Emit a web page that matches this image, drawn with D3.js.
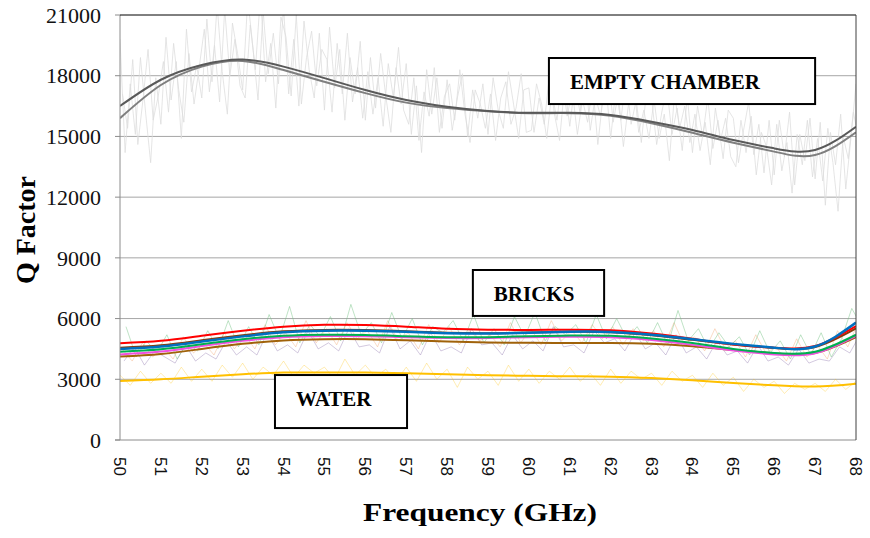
<!DOCTYPE html>
<html>
<head>
<meta charset="utf-8">
<script src="https://cdn.jsdelivr.net/npm/d3@7"></script>
<style>
body { margin: 0; background: #fff; }
</style>
</head>
<body>
<div class="canvas"></div>
<script>
var width = 870,
    height = 538;

// tick labels
var freqTicks = [50, 51, 52, 53, 54, 55, 56, 57, 58, 59, 60, 61, 62, 63, 64, 65, 66, 67, 68];
var qTicks = [0, 3000, 6000, 9000, 12000, 15000, 18000, 21000];

// smooth trend lines, one value per GHz (50..68)
var emptyTrendA = [16500, 17800, 18530, 18800, 18450, 17880, 17290, 16800, 16470, 16260, 16170, 16170, 16060, 15730, 15320, 14820, 14410, 14330, 15480];
var emptyTrendB = [15900, 17540, 18450, 18730, 18280, 17700, 17140, 16670, 16400, 16240, 16150, 16150, 16020, 15650, 15180, 14690, 14250, 14080, 15200];
var redTrend    = [4780, 4900, 5150, 5400, 5600, 5690, 5680, 5600, 5500, 5450, 5440, 5450, 5420, 5260, 5000, 4720, 4560, 4650, 5630];
var blueTrend   = [4500, 4620, 4870, 5120, 5320, 5400, 5400, 5350, 5280, 5260, 5300, 5350, 5340, 5200, 4980, 4750, 4560, 4620, 5800];
var maroonTrend = [4560, 4680, 4930, 5180, 5370, 5440, 5430, 5370, 5300, 5280, 5310, 5350, 5330, 5180, 4950, 4720, 4540, 4600, 5520];
var greenTrend  = [4360, 4480, 4730, 4980, 5150, 5200, 5190, 5130, 5080, 5080, 5130, 5160, 5150, 5020, 4790, 4500, 4300, 4360, 5200];
var pinkTrend   = [4230, 4370, 4640, 4900, 5080, 5140, 5130, 5080, 5040, 5040, 5080, 5100, 5080, 4940, 4700, 4420, 4230, 4290, 5150];
var brownTrend  = [4120, 4250, 4500, 4750, 4920, 4980, 4980, 4930, 4870, 4820, 4800, 4790, 4790, 4750, 4630, 4450, 4280, 4300, 5080];
var waterTrend  = [2915, 3000, 3130, 3250, 3330, 3340, 3330, 3300, 3250, 3200, 3170, 3150, 3130, 3060, 2950, 2820, 2700, 2640, 2780];

// raw measured traces, empty chamber, every 0.125 GHz
var emptyRawA = [
    19800, 14200, 17600, 15100, 18900, 16200, 13700, 17900,
    15600, 19900, 16800, 18700, 14900, 20300, 17200, 18500,
    16900, 20800, 17700, 21500, 18200, 16100, 20600, 19100,
    17300, 21800, 19400, 16800, 21200, 18100, 20100, 17600,
    21400, 17100, 19800, 16500, 20700, 18300, 16900, 20100,
    16300, 20400, 17400, 19300, 15800, 18900, 17100, 19700,
    15800, 18900, 16400, 19100, 17000, 15200, 18400, 16600,
    18600, 15100, 17500, 14200, 18300, 16100, 17900, 15400,
    17800, 15300, 16900, 18100, 15000, 17300, 15900, 17600,
    15100, 17900, 16300, 15400, 18200, 16600, 14900, 17300,
    17400, 15200, 16900, 15600, 18000, 16100, 14800, 17500,
    15500, 17600, 16200, 18300, 15300, 17000, 16000, 17800,
    14900, 17300, 15800, 17900, 15600, 16800, 14700, 17200,
    16900, 14600, 16200, 17400, 15100, 16400, 14300, 17000,
    14200, 16500, 15000, 16900, 14400, 15800, 13900, 16300,
    15900, 13700, 15300, 16700, 14100, 15600, 13200, 15800,
    13100, 15800, 14000, 16200, 12600, 15100, 13800, 15900,
    12900, 15700, 11600, 15200, 13600, 16100, 12400, 14900,
    17600
];
var emptyRawB = [
    17100, 15400, 18800, 14600, 16800, 19300, 15800, 17000,
    18700, 16200, 19600, 17300, 15700, 19100, 16600, 18400,
    20300, 17200, 19500, 16700, 21300, 18000, 19800, 17500,
    16900, 20500, 18300, 22000, 17700, 19600, 16400, 20900,
    19900, 17000, 21000, 16600, 18900, 20200, 17500, 19300,
    18800, 16200, 19600, 17100, 20100, 16700, 18400, 15900,
    18200, 16100, 17900, 15500, 18600, 16900, 19400, 16300,
    15600, 17900, 14800, 17200, 16000, 18400, 15200, 17000,
    17600, 15800, 18300, 16100, 14700, 17300, 16600, 15400,
    17100, 14800, 16900, 17700, 15600, 16400, 18100, 15200,
    15300, 17600, 16600, 14900, 17200, 15800, 17900, 16000,
    17300, 15100, 16800, 15700, 17500, 14600, 16900, 18200,
    15700, 17100, 14500, 16600, 17700, 15200, 16300, 14900,
    16800, 14900, 16100, 13800, 17100, 15400, 16500, 14700,
    16100, 14300, 15700, 13600, 16400, 14800, 15900, 14000,
    13500, 15800, 14200, 16000, 13100, 15200, 14500, 12600,
    15600, 13300, 14700, 12200, 15100, 13600, 15800, 13000,
    14900, 12800, 15400, 13700, 11300, 15000, 13900, 16200,
    14900
];

// raw traces, bricks and water, every 0.25 GHz
var greenRaw = [
    5600, 4100, 4900, 4300, 5200, 4000, 4800, 4400, 5400, 4500, 5900, 4600,
    5600, 4700, 6200, 5000, 6600, 4800, 5700, 5100, 6100, 4900, 6700, 5200,
    5800, 4800, 6300, 5000, 6000, 4700, 5600, 5300, 5900, 4900, 6200, 4800,
    5500, 4700, 6100, 5100, 6300, 4900, 5600, 5200, 5700, 4800, 6200, 5000,
    6000, 5000, 5600, 4800, 5800, 4700, 6400, 4900, 5500, 4500, 5300, 4600,
    5100, 4200, 5400, 4300, 4900, 4000, 5200, 4200, 5300, 4100, 5000, 6500,
    5600
];
var purpleRaw = [
    3900, 4600, 3700, 4400, 4100, 3800, 4700, 3900, 4300, 4000, 4900, 4200,
    4600, 4200, 5300, 4400, 4700, 4300, 5400, 4500, 4800, 4400, 5500, 4600,
    4700, 4300, 5600, 4500, 4900, 4200, 5300, 4400, 4600, 4300, 5500, 4700,
    4800, 4200, 5200, 4500, 4900, 4400, 5600, 4600, 4700, 4300, 5400, 4800,
    5000, 4400, 5300, 4500, 4800, 4200, 5200, 4300, 4600, 4000, 4900, 4200,
    4400, 3800, 4700, 3900, 4100, 3700, 4500, 3800, 4000, 3900, 4600, 4300,
    5200
];
var peachRaw = [
    4500, 3900, 4800, 4100, 4600, 4000, 5100, 4300, 4800, 4200, 5300, 4500,
    5200, 4500, 5700, 4700, 5300, 4600, 5900, 4800, 5500, 4700, 5800, 5000,
    5400, 4600, 5900, 4900, 5300, 4500, 5700, 4800, 5600, 4700, 5400, 4900,
    5200, 4600, 5800, 4800, 5500, 4700, 5900, 4900, 5400, 4800, 5700, 5000,
    5600, 4700, 5500, 4900, 5400, 4600, 5800, 4700, 5100, 4400, 5500, 4500,
    4900, 4100, 5200, 4300, 4600, 3900, 5000, 4100, 4700, 4000, 5400, 4600,
    5800
];
var waterRaw = [
    3200, 2700, 3400, 2800, 3300, 2800, 3600, 2900, 3500, 2900, 3700, 3100,
    3800, 3000, 3600, 3200, 3900, 3100, 3700, 3300, 3600, 3000, 4000, 3200,
    3700, 3100, 3500, 2900, 3600, 2900, 3800, 3000, 3500, 2600, 3600, 3000,
    3400, 2700, 3700, 2900, 3500, 2800, 3400, 3000, 3600, 2900, 3300, 2700,
    3500, 2800, 3400, 3000, 3300, 2700, 3400, 2900, 3200, 2600, 3300, 2700,
    3100, 2400, 3000, 2600, 2900, 2300, 2800, 2500, 2800, 2400, 3000, 2500,
    2900
];

var margin = {left: 120, right: 14, top: 15, bottom: 98};
var serif = "Liberation Serif, Times New Roman, Times, serif";

var svg = d3.select(".canvas").append("svg")
    .attr("width", width)
    .attr("height", height)
    .attr("font-family", serif);

var x = d3.scaleLinear().domain([50, 68]).range([margin.left, width - margin.right]);
var y = d3.scaleLinear().domain([0, 21000]).range([height - margin.bottom, margin.top]);

svg.append("clipPath").attr("id", "plot")
    .append("rect")
    .attr("x", x(50)).attr("y", y(21000))
    .attr("width", x(68) - x(50)).attr("height", y(0) - y(21000));

// gridlines
svg.append("g").selectAll("line")
    .data(qTicks.filter(function(d) { return d > 0 && d < 21000; }))
    .enter().append("line")
    .attr("x1", x(50)).attr("x2", x(68))
    .attr("y1", function(d) { return y(d); })
    .attr("y2", function(d) { return y(d); })
    .attr("stroke", "#a6a6a6")
    .attr("stroke-width", 1);

var plot = svg.append("g").attr("clip-path", "url(#plot)");

// raw data traces
function rawLine(step) {
    return d3.line()
        .x(function(d, i) { return x(50 + i * step); })
        .y(function(d) { return y(d); });
}

function drawRaw(data, step, color, opacity, offset) {
    plot.append("path")
        .datum(data)
        .attr("transform", "translate(" + (offset || 0) + ",0)")
        .attr("d", rawLine(step))
        .attr("fill", "none")
        .attr("stroke", color)
        .attr("stroke-width", 1)
        .attr("stroke-opacity", opacity);
}

drawRaw(emptyRawA, 0.125, "#dcdcdc", 0.75, 0);
drawRaw(emptyRawB, 0.125, "#dcdcdc", 0.75, 2.5);
drawRaw(waterRaw, 0.25, "#ffc000", 0.3, 0);
drawRaw(peachRaw, 0.25, "#f4b183", 0.45, 2);
drawRaw(purpleRaw, 0.25, "#8064a2", 0.35, 4);
drawRaw(greenRaw, 0.25, "#70c080", 0.45, 6);

// trend lines
var trend = d3.line()
    .x(function(d, i) { return x(freqTicks[i]); })
    .y(function(d) { return y(d); })
    .curve(d3.curveNatural);

var trends = [
    {data: emptyTrendB, color: "#7f7f7f", w: 2},
    {data: emptyTrendA, color: "#595959", w: 2},
    {data: waterTrend, color: "#ffc000", w: 2},
    {data: brownTrend, color: "#a0620a", w: 2},
    {data: pinkTrend, color: "#f050e0", w: 2},
    {data: greenTrend, color: "#00b050", w: 2},
    {data: maroonTrend, color: "#843c0c", w: 2},
    {data: redTrend, color: "#ff0000", w: 2},
    {data: blueTrend, color: "#0070c0", w: 2.5}
];

trends.forEach(function(t) {
    plot.append("path")
        .datum(t.data)
        .attr("d", trend)
        .attr("fill", "none")
        .attr("stroke", t.color)
        .attr("stroke-width", t.w);
});

// axes and frame
svg.append("line")
    .attr("x1", x(50)).attr("x2", x(50))
    .attr("y1", y(21000)).attr("y2", y(0))
    .attr("stroke", "#8c8c8c");
svg.append("line")
    .attr("x1", x(50) - 5).attr("x2", x(68))
    .attr("y1", y(0)).attr("y2", y(0))
    .attr("stroke", "#8c8c8c");
svg.append("line")
    .attr("x1", x(50)).attr("x2", x(68))
    .attr("y1", y(21000)).attr("y2", y(21000))
    .attr("stroke", "#000");
svg.append("line")
    .attr("x1", x(68)).attr("x2", x(68))
    .attr("y1", y(21000)).attr("y2", y(0))
    .attr("stroke", "#404040");

// y ticks
var yt = svg.append("g").selectAll("g")
    .data(qTicks).enter().append("g");
yt.append("line")
    .attr("x1", x(50) - 5).attr("x2", x(50))
    .attr("y1", function(d) { return y(d); })
    .attr("y2", function(d) { return y(d); })
    .attr("stroke", "#8c8c8c");
yt.append("text")
    .attr("x", 101)
    .attr("y", function(d) { return y(d); })
    .attr("dy", "0.35em")
    .attr("text-anchor", "end")
    .attr("font-family", serif)
    .style("font-size", "22px")
    .style("fill", "#111")
    .text(function(d) { return d; });

// x ticks
svg.append("g").selectAll("text")
    .data(freqTicks).enter().append("text")
    .attr("transform", function(d) { return "translate(" + x(d) + ",457) rotate(90)"; })
    .attr("dy", "0.35em")
    .attr("font-family", "Liberation Sans, Arial, sans-serif")
    .style("font-size", "17px")
    .style("fill", "#111")
    .text(function(d) { return d; });

// axis titles
svg.append("text")
    .attr("x", 480)
    .attr("y", 521)
    .attr("text-anchor", "middle")
    .attr("textLength", 234)
    .attr("lengthAdjust", "spacingAndGlyphs")
    .attr("font-family", serif)
    .style("font-size", "25px")
    .style("font-weight", "bold")
    .text("Frequency (GHz)");

svg.append("text")
    .attr("transform", "translate(35,230) rotate(-90)")
    .attr("text-anchor", "middle")
    .attr("font-family", serif)
    .style("font-size", "28px")
    .style("font-weight", "bold")
    .text("Q Factor");

// label boxes (corners in data units)
var labels = [
    {text: "EMPTY CHAMBER", f0: 60.49, f1: 67.0, q0: 18875, q1: 16600},
    {text: "BRICKS", f0: 58.63, f1: 61.84, q0: 8400, q1: 6130},
    {text: "WATER", f0: 53.79, f1: 57.02, q0: 3210, q1: 590}
];

labels.forEach(function(l) {
    var g = svg.append("g");
    g.append("rect")
        .attr("x", x(l.f0)).attr("y", y(l.q0))
        .attr("width", x(l.f1) - x(l.f0))
        .attr("height", y(l.q1) - y(l.q0))
        .attr("fill", "#fff")
        .attr("stroke", "#000")
        .attr("stroke-width", 2);
    g.append("text")
        .attr("x", x(l.f0) + 21)
        .attr("y", y(l.q0) + 31)
        .attr("font-family", serif)
        .style("font-size", "21px")
        .style("font-weight", "bold")
        .text(l.text);
});
</script>
</body>
</html>
